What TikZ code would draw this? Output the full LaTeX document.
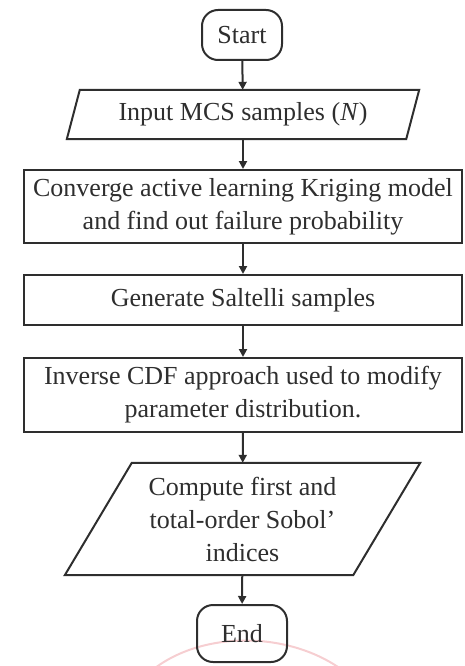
\documentclass[tikz,border=0pt]{standalone}
\usepackage{fontspec}
\setmainfont{Liberation Serif}
\usetikzlibrary{arrows.meta,calc}
\definecolor{ink}{rgb}{0.18,0.18,0.18}
\definecolor{wm}{rgb}{0.93,0.62,0.64}
\tikzset{
  every node/.style={font=\fontsize{26}{33}\selectfont, text=ink, align=center, inner sep=0pt},
  termbox/.style={draw=ink, line width=2pt, rounded corners=16pt},
  procbox/.style={draw=ink, line width=2pt},
  iobox/.style={},
  flow/.style={draw=ink, line width=2pt, -{Triangle[length=8pt,width=8pt]}}
}
\begin{document}
\begin{tikzpicture}[x=1pt,y=-1pt]
\useasboundingbox (0,0) rectangle (464,666);
% faint watermark arc
\draw[wm, line width=2pt, opacity=0.5] (150,672) .. controls (200,630) and (290,630) .. (345,672);
\node[termbox, minimum width=80pt, minimum height=50pt] (start) at (242,35) {Start};
\node[iobox, minimum width=339pt, minimum height=49pt] (in) at (243,114.5) {Input MCS samples (\textit{N})};
\draw[procbox] ($(in.north west)+(6.5,0)$) -- ($(in.north east)+(6.5,0)$) -- ($(in.south east)+(-6.5,0)$) -- ($(in.south west)+(-6.5,0)$) -- cycle;
\node[procbox, minimum width=438pt, minimum height=73pt] (conv) at (243,206.5) {Converge active learning Kriging model\\and find out failure probability};
\node[procbox, minimum width=438pt, minimum height=50pt] (salt) at (243,300) {Generate Saltelli samples};
\node[procbox, minimum width=438pt, minimum height=74pt] (inv) at (243,395) {Inverse CDF approach used to modify\\parameter distribution.};
\node[iobox, minimum width=288pt, minimum height=112pt] (sob) at (242.5,519) {Compute first and\\total-order Sobol’\\indices};
\draw[procbox] ($(sob.north west)+(33.5,0)$) -- ($(sob.north east)+(33.5,0)$) -- ($(sob.south east)+(-33.5,0)$) -- ($(sob.south west)+(-33.5,0)$) -- cycle;
\node[termbox, minimum width=90pt, minimum height=57pt] (end) at (242,633.5) {End};
\draw[flow] (start) -- (in);
\draw[flow] (in) -- (conv);
\draw[flow] (conv) -- (salt);
\draw[flow] (salt) -- (inv);
\draw[flow] (inv) -- (sob);
\draw[flow] (sob) -- (end);
\end{tikzpicture}
\end{document}
